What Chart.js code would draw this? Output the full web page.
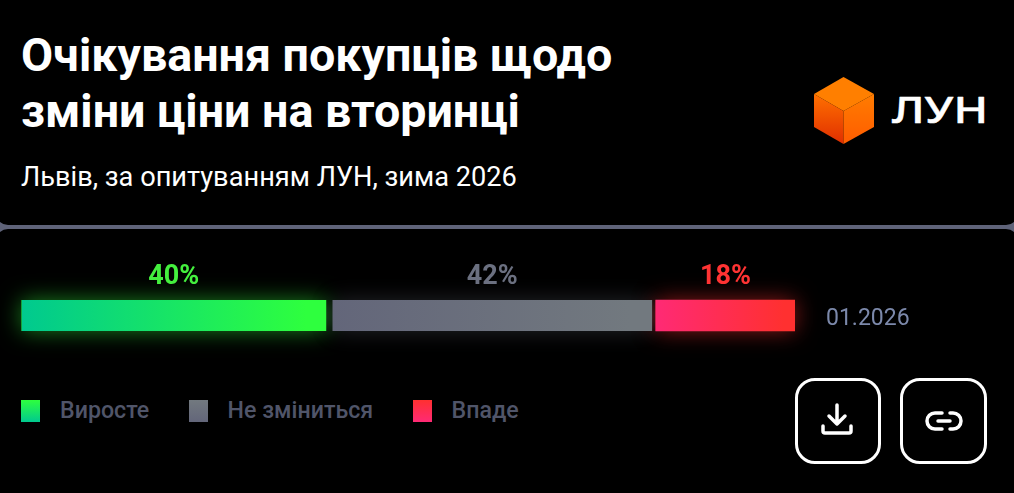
<!DOCTYPE html>
<html lang="uk">
<head>
<meta charset="utf-8">
<title>Очікування покупців</title>
<script src="https://cdn.jsdelivr.net/npm/chart.js@4"></script>
<style>
  html, body { margin: 0; padding: 0; }
  body { width: 1014px; height: 493px; position: relative; overflow: hidden; background: #5f6379; font-family: Roboto, sans-serif; color: #fff; }
  .top { position: absolute; left: -4px; top: -20px; width: 1022px; height: 245px; background: #000; border-radius: 0 0 12px 12px; }
  .bottom { position: absolute; left: -4px; top: 229px; width: 1022px; height: 280px; background: #000; border-radius: 12px 12px 0 0; }
  h1 { position: absolute; left: 21px; top: 27px; margin: 0; font-size: 46.6px; line-height: 56px; font-weight: 700; white-space: nowrap; }
  .sub { position: absolute; left: 21px; top: 160px; font-size: 27.2px; line-height: 34px; white-space: nowrap; }
  #chart { position: absolute; left: 0; top: 250px; }
  .legend-item { position: absolute; top: 400px; display: flex; font-size: 23.2px; font-weight: 500; line-height: 21px; color: #505569; white-space: nowrap; }
  .legend-item i { display: block; width: 19px; height: 22px; margin-right: 20px; }
  .btn { position: absolute; top: 378px; width: 80px; height: 80px; border: 3px solid #fff; border-radius: 20px; }
  .logo, .icon { position: absolute; }
</style>
</head>
<body>
<div class="top"></div>
<div class="bottom"></div>
<h1>Очікування покупців щодо<br>зміни ціни на вторинці</h1>
<div class="sub">Львів, за опитуванням ЛУН, зима 2026</div>

<svg class="logo" style="left:800px;top:60px" width="200" height="100" viewBox="800 60 200 100">
  <defs>
    <linearGradient id="cubeLeft" x1="0.3" y1="0" x2="0.3" y2="1">
      <stop offset="0" stop-color="#ff7000"/><stop offset="1" stop-color="#e02e00"/>
    </linearGradient>
    <linearGradient id="cubeRight" x1="0" y1="0" x2="0" y2="1">
      <stop offset="0" stop-color="#ff7c00"/><stop offset="1" stop-color="#ff5c00"/>
    </linearGradient>
  </defs>
  <polygon points="843.5,77 874,94 843.5,111 814,94" fill="#ff7f00"/>
  <polygon points="814,94 843.5,111 843.5,144 814,127" fill="url(#cubeLeft)"/>
  <polygon points="874,94 843.5,111 843.5,144 874,127" fill="url(#cubeRight)"/>
  <text x="892" y="123" font-family="Noto Sans" font-size="36" font-weight="500" fill="#fff" stroke="#fff" stroke-width="0.5" stroke-linejoin="round" textLength="96" lengthAdjust="spacingAndGlyphs">ЛУН</text>
</svg>

<canvas id="chart" width="1014" height="131"></canvas>
<div id="legend"></div>

<div class="btn" style="left:795px"></div>
<div class="btn" style="left:900px;width:81px"></div>
<svg class="icon" style="left:780px;top:370px" width="234" height="100" viewBox="0 0 234 100" fill="none" stroke="#fff" stroke-width="3.5" stroke-linecap="round" stroke-linejoin="round">
  <path d="M57 35 V54 M49 46 L57 54 L65 46"/>
  <path d="M43 56 V61 Q43 63 45 63 H69 Q71 63 71 61 V56"/>
  <path d="M162 43 H155 A8 8 0 0 0 155 59 H162 M170 43 H173 A8 8 0 0 1 173 59 H170"/>
  <path d="M158 51 H170"/>
</svg>

<script>
const categories = ['01.2026'];
const seriesNames = ['Виросте', 'Не зміниться', 'Впаде'];
const growValues = [40];
const sameValues = [42];
const fallValues = [18];
const valueLabels = ['40%', '42%', '18%'];
const labelColors = ['#44f03e', '#6b7080', '#ff3333'];
const glowColors = ['rgba(50,255,60,0.5)', 'rgba(120,125,140,0.3)', 'rgba(255,45,45,0.55)'];
const barStops = [
  ['#00c98f', '#2eff3e'],
  ['#63667a', '#72797f'],
  ['#ff2a75', '#ff3030']
];
const legendX = [21, 188.6, 412.6];

// gradient over the pixel span of one stacked bar
function barGradient(c, index) {
  const { ctx, chartArea, scales } = c.chart;
  if (!chartArea) return barStops[index][0];
  const all = [growValues, sameValues, fallValues];
  let start = 0;
  for (let i = 0; i < index; i++) start += all[i][0];
  const x0 = scales.x.getPixelForValue(start);
  const x1 = scales.x.getPixelForValue(start + all[index][0]);
  const g = ctx.createLinearGradient(x0, 0, x1, 0);
  g.addColorStop(0, barStops[index][0]);
  g.addColorStop(0.92, barStops[index][1]);
  g.addColorStop(1, barStops[index][1]);
  return g;
}

function visibleBar(bar) {
  const b = bar.options.borderWidth;
  return {
    left: bar.base + b.left,
    right: bar.x - b.right,
    top: bar.y - bar.height / 2,
    height: bar.height
  };
}

const glowAndLabels = {
  id: 'glowAndLabels',
  beforeDatasetsDraw(chart) {
    const ctx = chart.ctx;
    chart.data.datasets.forEach((d, i) => {
      const r = visibleBar(chart.getDatasetMeta(i).data[0]);
      ctx.save();
      ctx.shadowColor = glowColors[i];
      ctx.shadowBlur = 22;
      ctx.fillStyle = barStops[i][1];
      ctx.fillRect(r.left, r.top, r.right - r.left, r.height);
      ctx.restore();
    });
  },
  afterDatasetsDraw(chart) {
    const ctx = chart.ctx;
    chart.data.datasets.forEach((d, i) => {
      const r = visibleBar(chart.getDatasetMeta(i).data[0]);
      ctx.save();
      ctx.font = '700 27px Roboto';
      ctx.fillStyle = labelColors[i];
      ctx.textAlign = 'center';
      ctx.textBaseline = 'alphabetic';
      ctx.fillText(valueLabels[i], (r.left + r.right) / 2, r.top - 16);
      ctx.restore();
    });
  }
};

new Chart(document.getElementById('chart').getContext('2d'), {
  type: 'bar',
  plugins: [glowAndLabels],
  data: {
    labels: categories,
    datasets: [
      { label: seriesNames[0], data: growValues, backgroundColor: c => barGradient(c, 0), borderColor: 'transparent', borderSkipped: false, borderWidth: { top: 0, right: 5, bottom: 0, left: 0 }, barThickness: 31 },
      { label: seriesNames[1], data: sameValues, backgroundColor: c => barGradient(c, 1), borderColor: 'transparent', borderSkipped: false, borderWidth: { top: 0, right: 4, bottom: 0, left: 2 }, barThickness: 31 },
      { label: seriesNames[2], data: fallValues, backgroundColor: c => barGradient(c, 2), borderColor: 'transparent', borderSkipped: false, borderWidth: { top: 0, right: 0, bottom: 0, left: 0 }, barThickness: 31 }
    ]
  },
  options: {
    indexAxis: 'y',
    responsive: false,
    animation: false,
    layout: { padding: { left: 21.5 } },
    plugins: { legend: { display: false }, tooltip: { enabled: false } },
    scales: {
      x: { stacked: true, display: false, min: 0, max: 100 },
      y: {
        stacked: true,
        position: 'right',
        grid: { display: false, drawTicks: false },
        border: { display: false },
        ticks: { color: '#7c89ab', font: { family: 'Roboto', size: 23 }, padding: 31, labelOffset: 4 },
        afterFit(scale) { scale.width = 219; }
      }
    }
  }
});

const legendEl = document.getElementById('legend');
seriesNames.forEach((name, i) => {
  const item = document.createElement('div');
  item.className = 'legend-item';
  item.style.left = legendX[i] + 'px';
  const box = document.createElement('i');
  box.style.background = `linear-gradient(0deg, ${barStops[i][0]}, ${barStops[i][1]})`;
  item.appendChild(box);
  item.appendChild(document.createTextNode(name));
  legendEl.appendChild(item);
});
</script>
</body>
</html>
